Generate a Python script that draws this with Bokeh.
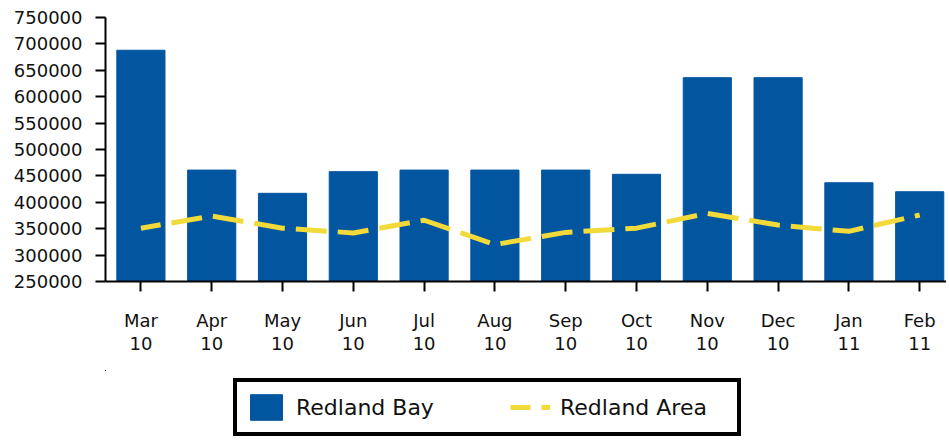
from bokeh.plotting import figure
from bokeh.layouts import column
from bokeh.models import (ColumnDataSource, FixedTicker, NumeralTickFormatter,
                          Range1d, Legend, LegendItem)
from bokeh.embed import file_html
from bokeh.resources import INLINE

# ---- data ----
months = ["Mar", "Apr", "May", "Jun", "Jul", "Aug", "Sep", "Oct", "Nov", "Dec", "Jan", "Feb"]
years = ["10", "10", "10", "10", "10", "10", "10", "10", "10", "10", "11", "11"]
redland_bay = [688000, 461000, 417000, 458000, 461000, 461000, 461000, 453000, 636000, 636000, 437000, 420000]
redland_area = [351000, 374000, 351000, 342000, 366000, 320000, 343000, 351000, 379000, 357000, 345000, 376000]
y_ticks = [250000, 300000, 350000, 400000, 450000, 500000, 550000, 600000, 650000, 700000, 750000]

idx = list(range(len(months)))
src = ColumnDataSource(dict(x=idx, bay=redland_bay, area=redland_area))

FONT = "DejaVu Sans"
BLUE = "#02559F"
YELLOW = "#F2DA3A"

W = 946
LEFT, TOP, FRAME_H = 105, 17, 264
MAIN_H = 370
LEG_H = 68
FRAME_W = W - LEFT

p = figure(width=W, height=MAIN_H, output_backend="svg", toolbar_location=None,
           x_range=Range1d(-0.5, -0.5 + FRAME_W / 70.8), y_range=Range1d(250000, 750000),
           min_border_left=LEFT, min_border_right=0, min_border_top=TOP,
           min_border_bottom=MAIN_H - TOP - FRAME_H)
p.outline_line_color = None
p.xgrid.visible = False
p.ygrid.visible = False

bar_kw = dict(x="x", top="bay", bottom=250000, width=0.68, source=src,
              fill_color=BLUE, line_color=BLUE)
line_kw = dict(x="x", y="area", source=src, line_color=YELLOW, line_width=5,
               line_dash="31 11", line_dash_offset=11)
p.vbar(**bar_kw)
p.line(**line_kw)

# axes
p.xaxis.ticker = FixedTicker(ticks=idx)
p.xaxis.major_label_overrides = {i: f"{m}\n{y}" for i, m, y in zip(idx, months, years)}
p.yaxis.ticker = FixedTicker(ticks=y_ticks)
p.yaxis.formatter = NumeralTickFormatter(format="0")
for ax in (p.xaxis[0], p.yaxis[0]):
    ax.axis_line_color = "black"
    ax.axis_line_width = 2
    ax.major_tick_line_color = "black"
    ax.major_tick_line_width = 2
    ax.major_tick_out = 10
    ax.major_tick_in = 0
    ax.minor_tick_line_color = None
    ax.major_label_text_font = FONT
    ax.major_label_text_font_size = "18px"
    ax.major_label_text_color = "#111111"
p.yaxis.major_label_standoff = 13
p.xaxis.major_label_standoff = 18
p.xaxis.major_label_text_line_height = 1.1

# legend strip below the chart (its glyphs lie outside its own ranges; only the legend shows)
lg = figure(width=W, height=LEG_H, output_backend="svg", toolbar_location=None,
            x_range=Range1d(100, 101), y_range=Range1d(0, 1),
            min_border_left=0, min_border_right=0, min_border_top=0, min_border_bottom=0)
lg.axis.visible = False
lg.grid.visible = False
lg.outline_line_color = None
lb = lg.vbar(**bar_kw)
ll = lg.line(**line_kw)

legend = Legend(items=[LegendItem(label="Redland Bay", renderers=[lb]),
                       LegendItem(label="Redland Area", renderers=[ll])],
                orientation="horizontal", location=(128, 2), margin=0,
                border_line_color="black", border_line_width=4, border_line_alpha=1,
                padding=9, spacing=46, glyph_width=40, glyph_height=32,
                label_standoff=10, label_width=168,
                label_text_font=FONT, label_text_font_size="22px",
                label_text_color="#111111", background_fill_color="white")
lg.add_layout(legend, "center")

layout = column(p, lg, spacing=0)
open("out.html", "w").write(file_html(layout, INLINE))
